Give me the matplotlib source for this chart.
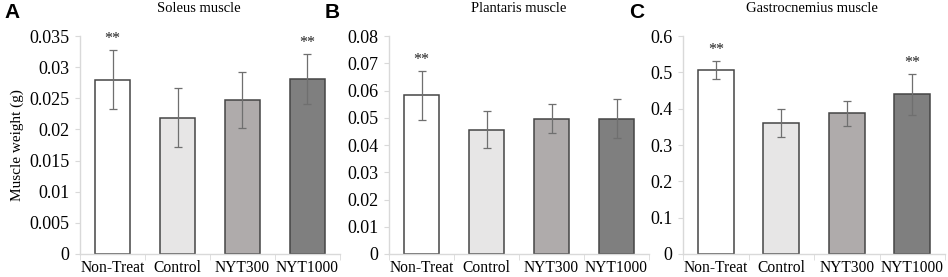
import matplotlib
matplotlib.use("Agg")
import matplotlib.pyplot as plt
import numpy as np

categories = ["Non-Treat", "Control", "NYT300", "NYT1000"]

soleus_mean = [0.0280, 0.0219, 0.0247, 0.0281]
soleus_err = [0.0048, 0.0048, 0.0045, 0.0040]
soleus_sig = ["**", "", "", "**"]

plantaris_mean = [0.0583, 0.0456, 0.0497, 0.0497]
plantaris_err = [0.0090, 0.0067, 0.0052, 0.0070]
plantaris_sig = ["**", "", "", ""]

gastro_mean = [0.507, 0.361, 0.387, 0.439]
gastro_err = [0.025, 0.038, 0.035, 0.057]
gastro_sig = ["**", "", "", "**"]

soleus_ticks = [0, 0.005, 0.01, 0.015, 0.02, 0.025, 0.03, 0.035]
soleus_ticklabels = ["0", "0.005", "0.01", "0.015", "0.02", "0.025", "0.03", "0.035"]
plantaris_ticks = [0, 0.01, 0.02, 0.03, 0.04, 0.05, 0.06, 0.07, 0.08]
plantaris_ticklabels = ["0", "0.01", "0.02", "0.03", "0.04", "0.05", "0.06", "0.07", "0.08"]
gastro_ticks = [0, 0.1, 0.2, 0.3, 0.4, 0.5, 0.6]
gastro_ticklabels = ["0", "0.1", "0.2", "0.3", "0.4", "0.5", "0.6"]

titles = ["Soleus muscle", "Plantaris muscle", "Gastrocnemius muscle"]
letters = ["A", "B", "C"]
ylabel = "Muscle weight (g)"

bar_colors = ["#ffffff", "#e7e6e6", "#afabab", "#7f7f7f"]
edge_color = "#454545"
axis_color = "#d9d9d9"
err_color = "#6f6f6f"

W, H = 948, 277
fig = plt.figure(figsize=(W / 100, H / 100), dpi=100)

serif = ["Liberation Serif", "DejaVu Serif"]

panels = [
    (80, 340, soleus_mean, soleus_err, soleus_sig, soleus_ticks, soleus_ticklabels),
    (389, 649, plantaris_mean, plantaris_err, plantaris_sig, plantaris_ticks, plantaris_ticklabels),
    (683, 945, gastro_mean, gastro_err, gastro_sig, gastro_ticks, gastro_ticklabels),
]
title_x = [199, 519, 812]
letter_x = [4, 325, 629]
top_px, bot_px = 36, 254

for i, (x0, x1, mean, err, sig, ticks, ticklabels) in enumerate(panels):
    ax = fig.add_axes([x0 / W, (H - bot_px) / H, (x1 - x0) / W, (bot_px - top_px) / H])
    x = np.arange(len(categories))
    ax.bar(x, mean, width=0.55, color=bar_colors, edgecolor=edge_color, linewidth=1.1, zorder=2)
    ax.errorbar(x, mean, yerr=err, fmt="none", ecolor=err_color, elinewidth=0.9,
                capsize=3, capthick=0.9, zorder=3)
    ymax = ticks[-1]
    for xi, m, e, s in zip(x, mean, err, sig):
        if s:
            ax.text(xi, m + e + ymax * 0.012, s, ha="center", va="bottom",
                    fontsize=11.5, family=serif, color="#222222")
    ax.set_xlim(-0.5, len(categories) - 0.5)
    ax.set_ylim(0, ymax)
    ax.set_yticks(ticks)
    ax.set_yticklabels(ticklabels, family=serif, fontsize=13)
    ax.set_xticks(x)
    ax.set_xticklabels(categories, family=serif, fontsize=11.2)
    ax.set_xticks(np.arange(-0.5, len(categories)), minor=True)
    ax.tick_params(axis="x", which="major", length=0, pad=4)
    ax.tick_params(axis="x", which="minor", length=4, color=axis_color, direction="out")
    ax.tick_params(axis="y", length=3.5, color=axis_color, pad=4)
    for sp in ["top", "right"]:
        ax.spines[sp].set_visible(False)
    for sp in ["left", "bottom"]:
        ax.spines[sp].set_color(axis_color)
        ax.spines[sp].set_linewidth(1.0)
    fig.text(title_x[i] / W, 1 - 8 / H, titles[i], ha="center", va="center",
             family=serif, fontsize=10.5)
    if i == 0:
        ax.set_ylabel(ylabel, family=serif, fontsize=11, labelpad=4)
    fig.text(letter_x[i] / W, 1 - 3 / H, letters[i], ha="left", va="top",
             fontsize=15, fontweight="bold", family=["Liberation Sans", "DejaVu Sans"])

fig.savefig("out.png", dpi=100)
